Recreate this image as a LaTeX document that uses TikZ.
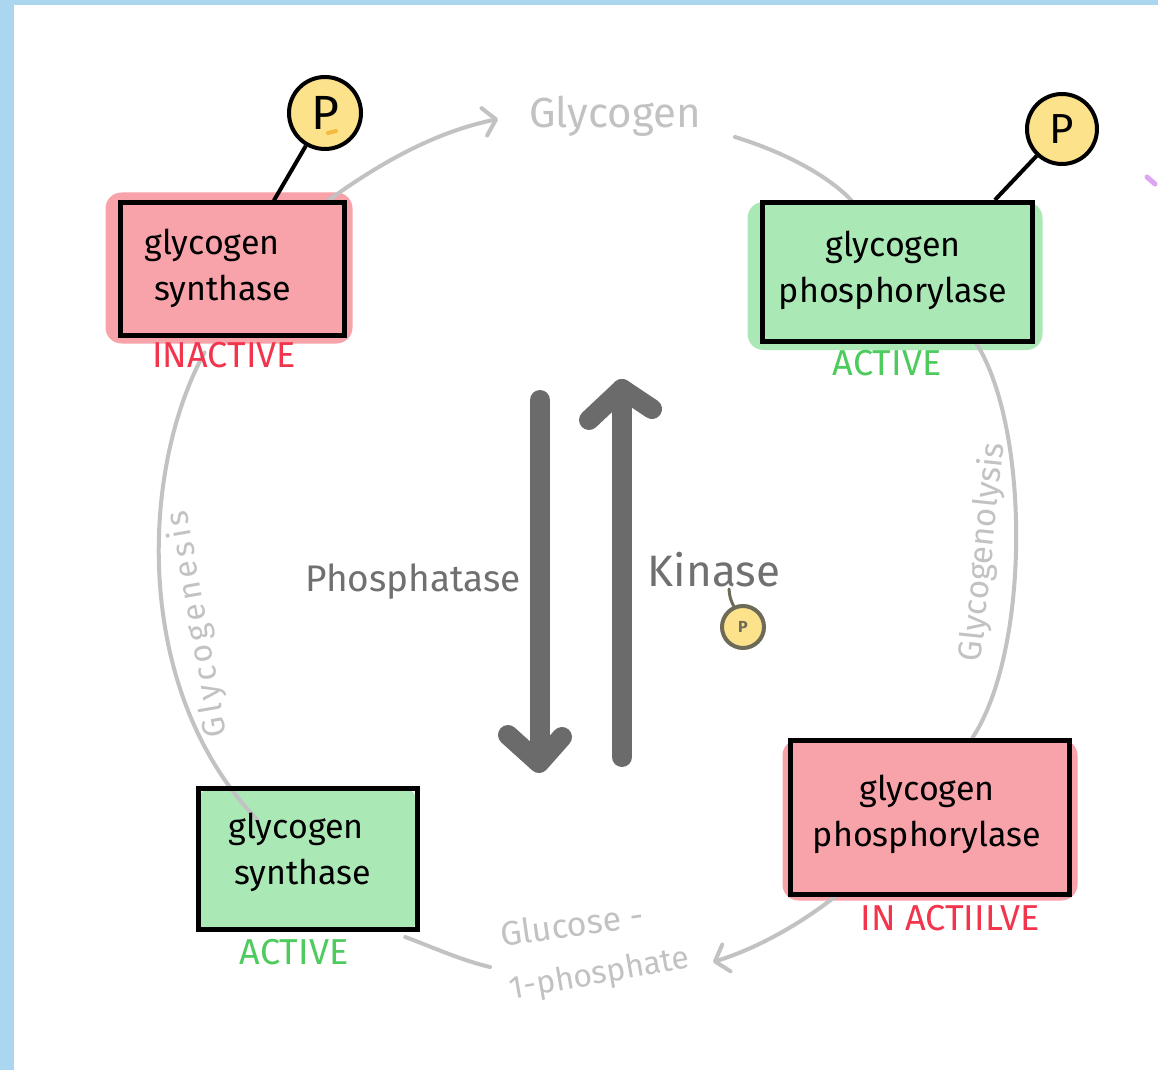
\documentclass[tikz,border=0pt]{standalone}
\usepackage{fontspec}
\setmainfont{Fira Sans}
\usetikzlibrary{arrows.meta,calc}

\definecolor{bluebg}{HTML}{AAD6F0}
\definecolor{pinkfill}{HTML}{F8A2AA}
\definecolor{greenfill}{HTML}{AAE8B6}
\definecolor{inred}{HTML}{F2344C}
\definecolor{actgreen}{HTML}{4DCB5C}
\definecolor{cyclegray}{HTML}{C2C2C2}
\definecolor{arrowgray}{HTML}{6B6B6B}
\definecolor{labelgray}{HTML}{707070}
\definecolor{pyellow}{HTML}{FDE28C}
\definecolor{pdark}{HTML}{6E6A58}
\definecolor{markviolet}{HTML}{DDA6F2}
\definecolor{dashorange}{HTML}{F6B93B}

\pgfdeclarelayer{background}
\pgfdeclarelayer{fills}
\pgfdeclarelayer{cycle}
\pgfsetlayers{background,fills,cycle,main}

\begin{document}
\begin{tikzpicture}[x=0.5pt,y=-0.5pt,
  enzbox/.style={draw=black, line width=2.5pt, inner sep=0pt},
  enztext/.style={inner sep=0pt, font=\fontsize{17}{23}\selectfont},
  status/.style={inner sep=0pt, font=\fontsize{18}{20}\selectfont},
  pbig/.style={circle, draw=black, line width=2pt, fill=pyellow, inner sep=0pt, minimum size=36pt},
  plink/.style={draw=black, line width=2pt},
  cycleline/.style={draw=cyclegray, line width=2pt, line cap=round},
  cyclearrow/.style={cycleline, -{Straight Barb[length=6pt,width=14pt,round]}},
  cyclelabel/.style={text=cyclegray, inner sep=0pt},
  bigarrow/.style={draw=arrowgray, line width=10pt, line cap=round, line join=round},
  enzymelabel/.style={text=labelgray, inner sep=0pt}
]
\useasboundingbox (0,0) rectangle (1158,1070);

% page frame
\begin{pgfonlayer}{background}
  \fill[bluebg] (0,0) rectangle (1158,1070);
  \fill[white] (14,5) rectangle (1158,1070);
\end{pgfonlayer}

% enzyme boxes
\node[enzbox, minimum width=112pt, minimum height=66pt] (gsI) at (232,269) {};
\node[enzbox, minimum width=135pt, minimum height=69.5pt] (gpA) at (897,272) {};
\node[enzbox, minimum width=109.5pt, minimum height=70.5pt] (gsA) at (307.5,859) {};
\node[enzbox, minimum width=139.5pt, minimum height=77pt] (gpI) at (929.5,817) {};

\node[enztext, align=left] (gsI-t) at (218,268) {glycogen\\\hspace*{5pt}synthase};
\node[enztext, align=center] (gpA-t) at (893,270) {glycogen\\phosphorylase};
\node[enztext, align=left] (gsA-t) at (300,852) {glycogen\\\hspace*{3pt}synthase};
\node[enztext, align=center] (gpI-t) at (927,814) {glycogen\\phosphorylase};

% activity states
\node[status, text=inred] (gsI-s) at (224,355) {INACTIVE};
\node[status, text=actgreen] (gpA-s) at (887,363) {ACTIVE};
\node[status, text=actgreen] (gsA-s) at (294,952) {ACTIVE};
\node[status, text=inred] (gpI-s) at (950,918) {IN ACTIILVE};

% watercolour fills behind the boxes
\begin{pgfonlayer}{fills}
  \fill[pinkfill, rounded corners=8pt] ($(gsI.north west)+(-12,-8)$) rectangle ($(gsI.south east)+(6,6)$);
  \fill[greenfill, rounded corners=8pt] ($(gpA.north west)+(-12,2)$) rectangle ($(gpA.south east)+(8,6)$);
  \fill[greenfill, rounded corners=4pt] ($(gsA.north west)+(4,4)$) rectangle ($(gsA.south east)+(-4,-2)$);
  \fill[pinkfill, rounded corners=8pt] ($(gpI.north west)+(-5,2)$) rectangle ($(gpI.south east)+(6,4)$);
\end{pgfonlayer}

% phosphate groups on the enzymes
\node[pbig, font=\fontsize{24}{24}\selectfont] (p1) at (325,113) {P};
\node[pbig, minimum size=35pt, font=\fontsize{21}{21}\selectfont] (p2) at (1062,129) {P};
\draw[plink] (p1) -- ($(gsI.north west)!0.683!(gsI.north east)$);
\draw[plink] (p2) -- ($(gpA.north west)!0.856!(gpA.north east)$);
\draw[dashorange, line width=2pt, line cap=round] (328,133) -- (336,131);

% metabolite and pathway labels
\node[cyclelabel, font=\fontsize{21}{21}\selectfont] (glyc) at (615,116) {Glycogen};
\node[cyclelabel, font=\fontsize{17}{17}\selectfont, rotate=8] (gluc1) at (572,924) {Glucose -};
\node[cyclelabel, font=\fontsize{16}{16}\selectfont, rotate=10] (gluc2) at (600,975) {1-phosphate};
\node[cyclelabel, font=\fontsize{16.5}{16.5}\selectfont, rotate=84] (lysis) at (983,552) {Glycogenolysis};
\node[cyclelabel, font=\fontsize{16}{16}\selectfont\addfontfeature{LetterSpace=12}, rotate=100] (genesis) at (198,624) {Glycogenesis};

\coordinate (toGlyc) at (498,119);
\coordinate (fromGlyc) at (735,137);
\coordinate (toGluc) at (713,962);
\coordinate (fromGluc) at (490,967);
\coordinate (leftStart) at ($(gsI.south west)!0.38!(gsI.south east)+(0,15)$);
\coordinate (leftEnd) at ($(gsA.north west)+(62,34)$);

% the cycle between glycogen and glucose-1-phosphate
\begin{pgfonlayer}{cycle}
  \draw[cyclearrow] ($(gsI.north west)!0.92!(gsI.north east)$) .. controls (380,163) and (435,132) .. (toGlyc);
  \draw[cycleline] (fromGlyc) .. controls (790,154) and (830,178) .. ($(gpA.north west)!0.333!(gpA.north east)$);
  \draw[cycleline] ($(gpA.south west)!0.79!(gpA.south east)$) .. controls (1030,430) and (1030,650) .. ($(gpI.north west)!0.652!(gpI.north east)$);
  \draw[cyclearrow] ($(gpI.south west)!0.168!(gpI.south east)$) .. controls (795,928) and (752,950) .. (toGluc);
  \draw[cycleline] ($(gsA.south west)!0.936!(gsA.south east)+(0,5)$) .. controls (430,946) and (460,960) .. (fromGluc);
  \draw[cycleline] (leftStart) .. controls (140,470) and (132,690) .. (leftEnd);
\end{pgfonlayer}

% interconversion arrows
\coordinate (dnTop) at (540,400);
\coordinate (dnTip) at (539,763);
\coordinate (upBot) at (622,757);
\coordinate (upTip) at (622,389);
\draw[bigarrow] (dnTop) -- ($(dnTip)+(1,-4)$);
\draw[bigarrow] (508,735) -- (dnTip) -- (562,737);
\draw[bigarrow] (upBot) -- (upTip);
\draw[bigarrow] (589,420) -- (upTip) -- (652,409);

\node[enzymelabel, font=\fontsize{18.5}{18.5}\selectfont] (phos) at (413,582) {Phosphatase};
\node[enzymelabel, font=\fontsize{22}{22}\selectfont] (kin) at (714,570) {Kinase};
\node[circle, draw=pdark, line width=2pt, fill=pyellow, inner sep=0pt, minimum size=21pt, font=\bfseries\fontsize{8}{8}\selectfont, text=pdark] (pk) at (743,627) {P};
\coordinate (kinA) at (729,589);
\draw[pdark, line width=1.5pt, line cap=round] (kinA) .. controls (730,598) .. (pk);

% stray pen mark
\draw[markviolet, line width=2.5pt, line cap=round] (1147,177) -- (1155,184);
\end{tikzpicture}
\end{document}
